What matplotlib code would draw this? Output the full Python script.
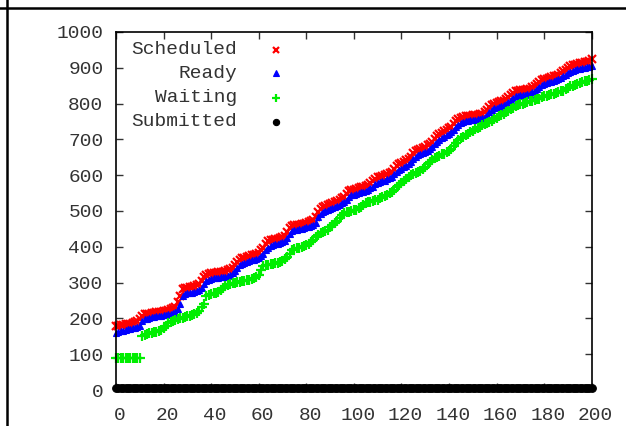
import numpy as np
import matplotlib.pyplot as plt
from matplotlib.lines import Line2D
from matplotlib.transforms import ScaledTranslation

plt.rcParams['font.family'] = ['Liberation Mono', 'DejaVu Sans Mono']

# job index 0..200
x = np.arange(0, 201)

scheduled = [
    178, 180, 181, 182, 183, 184, 185, 187, 189, 192,
    198, 208, 211, 212, 213, 214, 216, 217, 218, 219,
    220, 222, 223, 225, 228, 233, 245, 262, 282, 285,
    286, 287, 288, 290, 292, 296, 305, 315, 320, 325,
    326, 327, 328, 329, 330, 331, 332, 334, 338, 342,
    348, 358, 364, 368, 370, 372, 374, 376, 378, 380,
    383, 390, 398, 408, 415, 418, 420, 421, 423, 425,
    427, 430, 440, 452, 458, 460, 461, 462, 463, 465,
    467, 469, 471, 474, 482, 498, 506, 510, 513, 516,
    519, 522, 525, 528, 532, 535, 540, 548, 555, 558,
    560, 562, 564, 566, 568, 571, 574, 577, 583, 590,
    594, 596, 598, 600, 602, 605, 610, 618, 625, 630,
    634, 638, 642, 646, 652, 662, 668, 671, 674, 677,
    680, 684, 688, 694, 702, 710, 715, 719, 723, 727,
    731, 736, 742, 750, 756, 760, 762, 764, 765, 766,
    767, 768, 769, 770, 772, 776, 782, 790, 797, 800,
    802, 804, 806, 808, 812, 818, 824, 830, 834, 836,
    837, 838, 839, 840, 842, 846, 850, 855, 860, 865,
    868, 870, 872, 874, 876, 878, 881, 885, 890, 895,
    900, 904, 907, 909, 911, 913, 914, 915, 916, 918,
    924,
]

ready = [
    160, 162, 164, 166, 168, 170, 171, 172, 174, 176,
    180, 192, 197, 199, 201, 203, 205, 206, 207, 208,
    209, 210, 211, 213, 215, 218, 226, 240, 262, 268,
    270, 271, 272, 274, 276, 279, 285, 296, 304, 308,
    310, 312, 313, 314, 315, 316, 317, 319, 322, 326,
    332, 340, 348, 353, 356, 358, 360, 362, 364, 366,
    368, 373, 380, 390, 398, 403, 405, 407, 409, 411,
    413, 416, 424, 436, 443, 446, 448, 449, 450, 452,
    454, 456, 458, 461, 467, 482, 491, 496, 499, 502,
    505, 508, 511, 514, 518, 521, 525, 532, 540, 544,
    546, 548, 550, 552, 554, 557, 560, 563, 568, 575,
    579, 581, 583, 585, 588, 591, 595, 602, 609, 614,
    618, 622, 626, 630, 636, 645, 652, 656, 659, 662,
    665, 668, 672, 678, 686, 694, 699, 703, 707, 711,
    715, 720, 726, 734, 740, 745, 748, 750, 752, 753,
    754, 755, 756, 757, 759, 763, 769, 776, 783, 787,
    789, 791, 793, 795, 799, 805, 811, 816, 820, 822,
    823, 824, 825, 826, 828, 832, 836, 841, 846, 851,
    855, 857, 859, 861, 863, 865, 868, 872, 876, 880,
    885, 889, 892, 894, 896, 898, 899, 900, 901, 902,
    904,
]

waiting = [
    88, 88, 88, 88, 88, 88, 88, 88, 88, 88,
    88, 152, 155, 157, 158, 160, 161, 163, 165, 168,
    172, 180, 186, 190, 193, 196, 198, 200, 202, 204,
    206, 208, 210, 212, 216, 222, 232, 240, 262, 266,
    268, 270, 272, 274, 278, 284, 290, 294, 296, 298,
    300, 302, 303, 304, 305, 306, 308, 310, 312, 316,
    322, 335, 345, 348, 350, 352, 353, 354, 356, 358,
    360, 366, 372, 380, 390, 394, 396, 398, 400, 402,
    404, 408, 414, 420, 428, 434, 438, 441, 444, 448,
    454, 460, 466, 472, 480, 490, 494, 496, 498, 500,
    502, 504, 507, 512, 518, 522, 524, 526, 528, 530,
    532, 535, 538, 542, 546, 550, 554, 560, 566, 572,
    578, 584, 590, 596, 600, 604, 607, 610, 613, 618,
    624, 630, 636, 642, 648, 652, 655, 658, 660, 664,
    668, 674, 682, 690, 698, 704, 708, 712, 716, 720,
    724, 728, 732, 736, 740, 743, 746, 749, 752, 756,
    760, 764, 768, 772, 776, 780, 784, 788, 792, 796,
    798, 800, 802, 804, 806, 808, 810, 812, 814, 818,
    820, 822, 824, 826, 828, 830, 832, 834, 836, 840,
    844, 848, 850, 852, 855, 858, 860, 862, 864, 866,
    868,
]

submitted = [6] * 201

labels = ['Scheduled', 'Ready', 'Waiting', 'Submitted']
series = [scheduled, ready, waiting, submitted]
colors = ['#ff0000', '#0000ff', '#00ee00', '#000000']
markers = ['x', '^', '+', 'o']
msizes = [5.5, 5.0, 6.5, 5.5]
mews = [1.6, 0.8, 1.6, 0.8]

fig = plt.figure(figsize=(6.26, 4.26), dpi=100)
ax = fig.add_axes([0.1853, 0.0845, 0.7599, 0.8404])

for s, c, m, ms, mw in zip(series, colors, markers, msizes, mews):
    ax.plot(x, s, linestyle='none', marker=m, color=c, markersize=ms,
            markeredgewidth=mw, clip_on=False)

ax.set_xlim(0, 200)
ax.set_ylim(0, 1000)
ax.set_xticks(np.arange(0, 201, 20))
ax.set_yticks(np.arange(0, 1001, 100))
ax.tick_params(direction='in', length=5, width=1, top=True, right=True,
               labelsize=14, colors='#333333')
ax.tick_params(axis='y', pad=9)
ax.tick_params(axis='x', pad=12)
for sp in ax.spines.values():
    sp.set_linewidth(1.2)

# gnuplot puts the x labels a few pixels right of the tick
shift = ScaledTranslation(4 / 100, 0, fig.dpi_scale_trans)
for lbl in ax.get_xticklabels():
    lbl.set_transform(lbl.get_transform() + shift)

# key, gnuplot style: right aligned text, sample to the right
ky = [0.950, 0.885, 0.816, 0.749]
for lab, c, m, ms, mw, yy in zip(labels, colors, markers, msizes, mews, ky):
    ax.text(0.254, yy, lab, transform=ax.transAxes, ha='right', va='center',
            fontsize=14, color='#333333')
    ax.plot([0.336], [yy], transform=ax.transAxes, linestyle='none',
            marker=m, color=c, markersize=ms - 1, markeredgewidth=mw)

# page frame lines
fig.add_artist(Line2D([0, 1], [1 - 7.5 / 426] * 2, transform=fig.transFigure,
                      color='black', linewidth=1.8))
fig.add_artist(Line2D([6.5 / 626] * 2, [0, 1], transform=fig.transFigure,
                      color='black', linewidth=1.8))

fig.savefig('out.png', dpi=100)
